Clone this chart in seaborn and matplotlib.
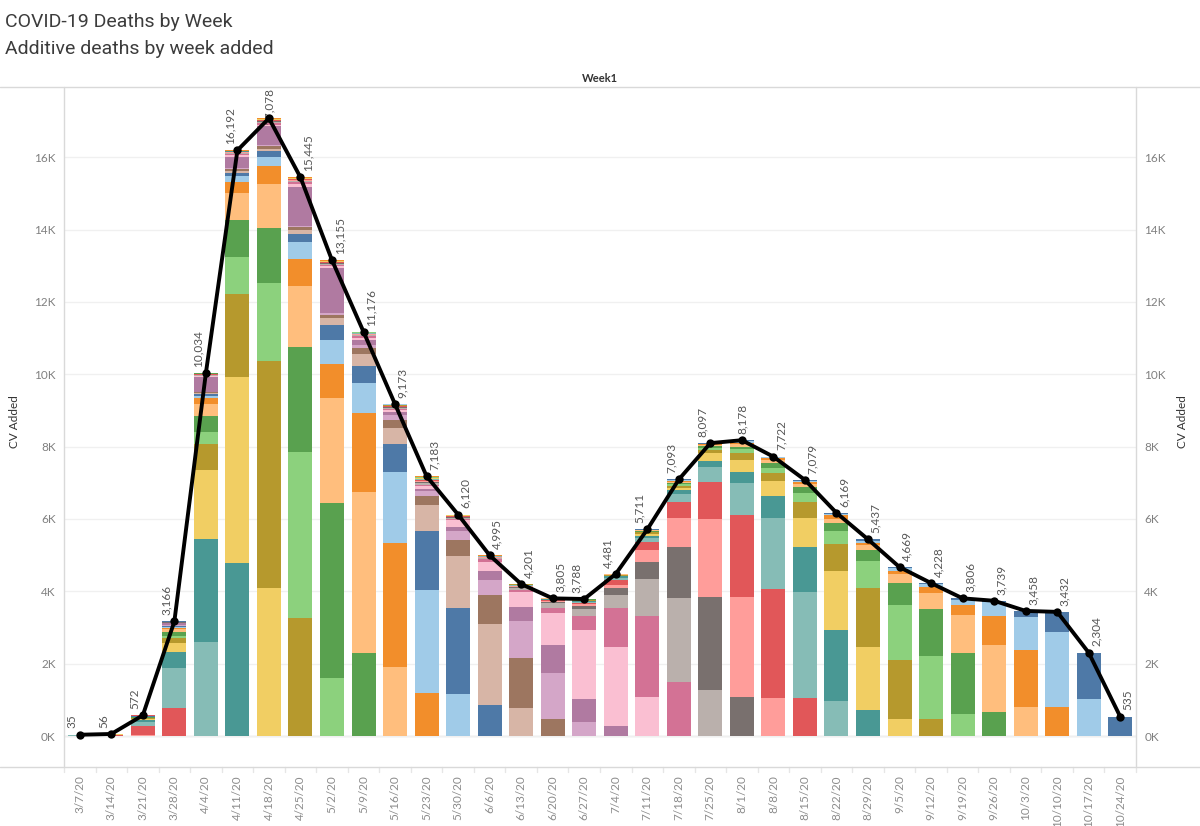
import numpy as np
import pandas as pd
import matplotlib
matplotlib.use("Agg")
import matplotlib.pyplot as plt
from matplotlib.lines import Line2D
import matplotlib.transforms as mtransforms
import seaborn as sns

weeks = ['3/7/20', '3/14/20', '3/21/20', '3/28/20', '4/4/20', '4/11/20', '4/18/20', '4/25/20',
         '5/2/20', '5/9/20', '5/16/20', '5/23/20', '5/30/20', '6/6/20', '6/13/20', '6/20/20',
         '6/27/20', '7/4/20', '7/11/20', '7/18/20', '7/25/20', '8/1/20', '8/8/20', '8/15/20',
         '8/22/20', '8/29/20', '9/5/20', '9/12/20', '9/19/20', '9/26/20', '10/3/20', '10/10/20',
         '10/17/20', '10/24/20']
totals = [35, 56, 572, 3166, 10034, 16192, 17078, 15445, 13155, 11176, 9173, 7183, 6120, 4995,
          4201, 3805, 3788, 4481, 5711, 7093, 8097, 8178, 7722, 7079, 6169, 5437, 4669, 4228,
          3806, 3739, 3458, 3432, 2304, 535]

# deaths added per report week, bottom slice (first report) to top (latest report)
wk_0307 = [2, 2, 3, 5, 8, 6, 3, 2, 1, 1, 1, 0, 0, 1]
wk_0314 = [3, 5, 8, 13, 10, 5, 3, 2, 2, 1, 1, 1, 1, 0, 0, 0, 1]
wk_0321 = [30, 240, 120, 45, 30, 20, 12, 18, 10, 8, 5, 5, 3, 3, 2, 8, 2, 2, 1, 1, 1, 1, 1, 1, 1, 1, 1]
wk_0328 = [780, 1110, 440, 250, 120, 70, 110, 70, 40, 20, 20, 10, 10, 10, 57, 8, 6, 5, 4, 4, 3, 3, 3,
           2, 2, 2, 2, 2, 1, 1, 1]
wk_0404 = [2610, 2840, 1900, 720, 340, 440, 330, 160, 70, 40, 30, 20, 10, 420, 16, 15, 12, 10, 8, 7,
           6, 5, 5, 4, 4, 3, 3, 2, 2, 2]
wk_0411 = [4790, 5140, 2290, 1010, 1040, 730, 320, 160, 90, 50, 50, 40, 290, 61, 30, 20, 15, 12, 10,
           8, 7, 6, 5, 4, 4, 3, 3, 2, 2]
wk_0418 = [4080, 6300, 2140, 1530, 1210, 500, 260, 140, 80, 60, 30, 530, 45, 40, 30, 20, 15, 12, 10,
           9, 8, 7, 6, 5, 4, 3, 2, 2]
wk_0425 = [3250, 4610, 2890, 1690, 740, 490, 210, 110, 90, 20, 1090, 67, 50, 30, 20, 18, 15, 12, 10,
           8, 7, 5, 4, 3, 3, 2, 1]
wk_0502 = [1610, 4840, 2900, 940, 660, 410, 190, 90, 50, 1240, 56, 40, 25, 18, 15, 12, 10, 9, 8, 7,
           6, 5, 4, 4, 3, 3]
wk_0509 = [2300, 4450, 2170, 850, 470, 320, 160, 90, 140, 60, 40, 25, 18, 15, 12, 10, 8, 7, 6, 5, 5,
           4, 4, 3, 4]
wk_0516 = [1920, 3420, 1970, 760, 450, 230, 120, 90, 60, 30, 20, 15, 13, 12, 10, 8, 8, 7, 6, 6, 5, 5,
           4, 4]
wk_0523 = [1180, 2860, 1630, 720, 250, 120, 80, 60, 50, 40, 30, 30, 25, 20, 18, 15, 12, 10, 10, 8, 7,
           5, 3]
wk_0530 = [1160, 2390, 1430, 440, 260, 110, 170, 50, 25, 18, 14, 12, 8, 6, 5, 4, 4, 3, 3, 3, 3, 2]
wk_0606 = [850, 2250, 790, 420, 260, 250, 60, 30, 20, 15, 12, 8, 6, 5, 4, 4, 3, 2, 2, 2, 2]
wk_0613 = [780, 1370, 1030, 400, 410, 60, 50, 25, 20, 15, 10, 8, 6, 5, 4, 3, 2, 1, 1, 1]
wk_0620 = [460, 1270, 790, 890, 140, 120, 40, 25, 20, 12, 10, 8, 6, 5, 4, 2, 1, 1, 1]
wk_0627 = [400, 610, 1920, 390, 180, 90, 50, 40, 30, 20, 15, 12, 10, 8, 6, 4, 2, 1]
wk_0704 = [280, 2170, 1100, 350, 180, 90, 140, 60, 40, 20, 15, 12, 8, 6, 4, 3, 3]
wk_0711 = [1090, 2230, 1020, 480, 320, 210, 127, 60, 50, 40, 25, 20, 15, 10, 8, 6]
wk_0718 = [1500, 2310, 1410, 820, 430, 210, 110, 80, 55, 45, 35, 30, 25, 18, 15]
wk_0725 = [1270, 2560, 2160, 1020, 440, 160, 210, 75, 60, 50, 35, 25, 20, 12]
wk_0801 = [1090, 2760, 2260, 880, 320, 320, 190, 110, 70, 60, 50, 38, 30]
wk_0808 = [1060, 3000, 1980, 600, 410, 230, 140, 120, 90, 50, 22, 20]
wk_0815 = [1040, 2930, 1250, 820, 420, 270, 150, 100, 55, 24, 20]
wk_0822 = [970, 1960, 1630, 740, 380, 200, 110, 120, 35, 24]
wk_0829 = [720, 1750, 1630, 740, 300, 140, 60, 60, 37]
wk_0905 = [460, 1640, 1520, 620, 240, 90, 70, 29]
wk_0912 = [470, 1750, 1280, 440, 170, 85, 33]
wk_0919 = [610, 1690, 1050, 270, 150, 36]
wk_0926 = [650, 1870, 800, 390, 29]
wk_1003 = [810, 1570, 920, 158]
wk_1010 = [790, 2090, 552]
wk_1017 = [1010, 1294]
wk_1024 = [535]

stacks = [wk_0307, wk_0314, wk_0321, wk_0328, wk_0404, wk_0411, wk_0418, wk_0425, wk_0502, wk_0509,
          wk_0516, wk_0523, wk_0530, wk_0606, wk_0613, wk_0620, wk_0627, wk_0704, wk_0711, wk_0718,
          wk_0725, wk_0801, wk_0808, wk_0815, wk_0822, wk_0829, wk_0905, wk_0912, wk_0919, wk_0926,
          wk_1003, wk_1010, wk_1017, wk_1024]

tab20 = ['#4E79A7', '#A0CBE8', '#F28E2B', '#FFBE7D', '#59A14F', '#8CD17D', '#B6992D', '#F1CE63',
         '#499894', '#86BCB6', '#E15759', '#FF9D9A', '#79706E', '#BAB0AC', '#D37295', '#FABFD2',
         '#B07AA1', '#D4A6C8', '#9D7660', '#D7B5A6']

n = len(weeks)
rows = []
for i, seg in enumerate(stacks):
    first = n - 1 - i  # report-week index of the bottom slice
    cum = np.cumsum(seg)
    for k, v in enumerate(seg):
        if v > 0:
            rows.append({'week': weeks[i], 'added': 'a%02d' % (first - k), 'top': cum[k]})
df = pd.DataFrame(rows)
hue_order = ['a%02d' % a for a in range(n)]
pal = {h: tab20[a % 20] for a, h in enumerate(hue_order)}

sns.set_style('white')
plt.rcParams['font.family'] = ['Lato', 'DejaVu Sans']

fig = plt.figure(figsize=(12, 8.26), dpi=100)
ax = fig.add_axes([64 / 1200, 59 / 826, 1072 / 1200, 680 / 826])
ymax = 17943

# draw cumulative heights, top report first, so older slices cover the lower part
sns.barplot(data=df, x='week', y='top', hue='added', hue_order=hue_order, order=weeks,
            palette=pal, dodge=False, saturation=1, width=0.76, errorbar=None,
            linewidth=0, legend=False, ax=ax)

sns.lineplot(x=np.arange(n), y=totals, color='black', linewidth=2.8, marker='o',
             markersize=6, markeredgewidth=0, ax=ax, zorder=5)

for i, t in enumerate(totals):
    prev_t = totals[i - 1] if i > 0 else t
    next_t = totals[i + 1] if i < n - 1 else t
    if next_t > t:
        dx = -5.5
    elif t > prev_t:
        dx = 0
    else:
        dx = 5.5
    if t > 16500:
        # no room above the peak: keep the label inside the pane
        ax.annotate(f"{t:,}", xy=(i, ymax), xytext=(dx, -1), textcoords='offset points',
                    rotation=90, ha='center', va='top', fontsize=8.5, color='#555555', zorder=4)
    else:
        ax.annotate(f"{t:,}", xy=(i, t), xytext=(dx, 4.5), textcoords='offset points',
                    rotation=90, ha='center', va='bottom', fontsize=8.5, color='#555555', zorder=4)

ax.set_xlim(-0.5, n - 0.5)
ax.set_ylim(-857, ymax)
yt = np.arange(0, 17000, 2000)
ax.set_yticks(yt)
ax.set_yticklabels([f"{v // 1000}K" for v in yt], fontsize=8.5, color='#808080')
ax.set_xticks(np.arange(n))
ax.set_xticklabels(weeks, rotation=90, fontsize=8.5, color='#8c8c8c')
ax.tick_params(axis='both', length=0, pad=6)
ax.set_xlabel('')
ax.set_ylabel('')
ax.yaxis.grid(True, color='#f0f0f0', linewidth=1)
ax.set_axisbelow(True)
ax.axhline(0, color='#dddddd', linewidth=1, zorder=0.5)
for s in ax.spines.values():
    s.set_visible(False)

ax2 = ax.twinx()
ax2.set_ylim(ax.get_ylim())
ax2.set_yticks(yt)
ax2.set_yticklabels([f"{v // 1000}K" for v in yt], fontsize=8.5, color='#808080')
ax2.tick_params(axis='y', length=0, pad=6)
for s in ax2.spines.values():
    s.set_visible(False)

# short separators between week labels
trans = mtransforms.blended_transform_factory(ax.transData, ax.transAxes)
for b in np.arange(n + 1) - 0.5:
    ax.add_line(Line2D([b, b], [0, -0.008], transform=trans, color='#e6e6e6',
                       linewidth=1, clip_on=False))

# frame lines
line_c = '#d9d9d9'
fig.add_artist(Line2D([0, 1], [1 - 87 / 826, 1 - 87 / 826], color=line_c, linewidth=1))
fig.add_artist(Line2D([0, 1], [59 / 826, 59 / 826], color=line_c, linewidth=1))
fig.add_artist(Line2D([64 / 1200, 64 / 1200], [59 / 826, 1 - 87 / 826], color=line_c, linewidth=1))
fig.add_artist(Line2D([1136 / 1200, 1136 / 1200], [59 / 826, 1 - 87 / 826], color=line_c, linewidth=1))

title_font = ['Roboto', 'DejaVu Sans']
fig.text(5 / 1200, 1 - 27 / 826, 'COVID-19 Deaths by Week', fontsize=14, color='#3c3c3c',
         va='baseline', family=title_font)
fig.text(5 / 1200, 1 - 54 / 826, 'Additive deaths by week added', fontsize=14, color='#3c3c3c',
         va='baseline', family=title_font)
fig.text(600 / 1200, 1 - 78 / 826, 'Week1', fontsize=8, fontweight='bold', color='#333333',
         ha='center', va='center')
fig.text(15 / 1200, 1 - 422 / 826, 'CV Added', fontsize=8.5, color='#333333', rotation=90,
         ha='center', va='center')
fig.text(1183 / 1200, 1 - 422 / 826, 'CV Added', fontsize=8.5, color='#333333', rotation=90,
         ha='center', va='center')

fig.savefig('out.png', dpi=100)
